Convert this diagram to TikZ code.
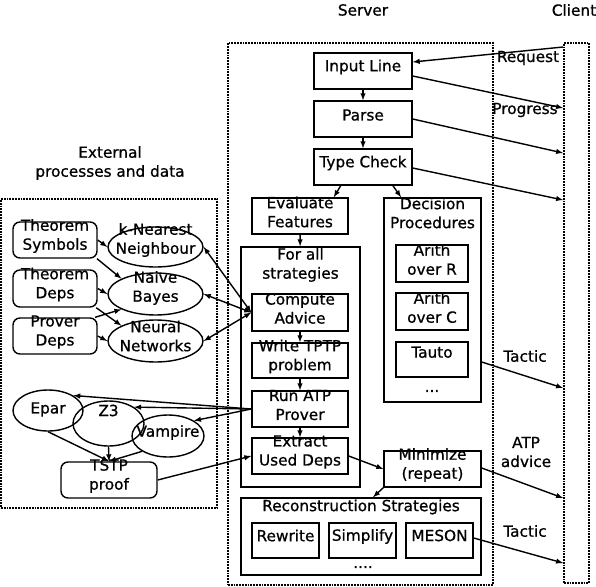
\documentclass[tikz,border=0pt]{standalone}
\usepackage{fontspec}
\setmainfont[FakeBold=0.8]{DejaVu Sans}
\usetikzlibrary{shapes.geometric}
\tikzset{
  box/.style 2 args={draw, rectangle, line width=1.4pt, inner sep=0pt, minimum width=#1, minimum height=#2},
  rbox/.style 2 args={box={#1}{#2}, rounded corners=7pt},
  ell/.style 2 args={draw, ellipse, line width=1.4pt, inner sep=0pt, minimum width=#1, minimum height=#2},
  dotbox/.style 2 args={draw, rectangle, densely dotted, line width=1.8pt, inner sep=0pt, minimum width=#1, minimum height=#2},
  tx/.style={label={[align=center, inner sep=0pt, yshift=4pt]center:{#1}}},
  ty/.style 2 args={label={[align=center, inner sep=0pt, yshift=#1]center:{#2}}},
  toplbl/.style 2 args={label={[align=center, inner sep=#1, below]north:{#2}}},
  arr/.style={-latex, line width=1.4pt},
}
\begin{document}
\begin{tikzpicture}[x=1pt, y=-1pt, font=\fontsize{15.3}{19}\selectfont]
		\useasboundingbox (0,0) rectangle (596,586);
		% group boxes
		\node[dotbox={216}{309}] (xbox) at (109,353.5) {};
		\node[dotbox={265}{542}] (srv) at (360.5,314) {};
		\node[dotbox={25}{540}] (cli) at (576.5,313) {};
		\node (srvl) at (363,10) {Server};
		\node (clil) at (574,10) {Client};
		\node[align=center] (xl) at (110,163) {External\\processes and data};
		
		% server
		\node[box={98}{36}, tx=Input Line] (inp) at (363,71) {};
		\node[box={98}{36}, tx=Parse] (par) at (363,119) {};
		\node[box={98}{36}, tx=Type Check] (typ) at (363,167) {};
		\node[box={96}{36}, tx={Evaluate\\Features}] (eva) at (300,216) {};
		\node[box={97}{204}, toplbl={0pt}{Decision\\Procedures}] (dec) at (432.5,300) {};
		\node[box={119}{240}, toplbl={1.5pt}{For all\\strategies}] (fas) at (300.5,367) {};
		\node[box={96}{37}, tx={Compute\\Advice}] (ca) at (300,312.5) {};
		\node[box={96}{35}, tx={Write TPTP\\problem}] (wtp) at (300,360.5) {};
		\node[box={96}{36}, tx={Run ATP\\Prover}] (rap) at (300,409) {};
		\node[box={96}{36}, tx={Extract\\Used Deps}] (used) at (300,456) {};
		\node[box={72}{37}, tx={Arith\\over R}] (arr) at (432,263.5) {};
		\node[box={72}{37}, tx={Arith\\over C}] (arc) at (432,311.5) {};
		\node[box={72}{35}, toplbl={5pt}{Tauto}] (tau) at (432,359.5) {};
		\node (decd) at (432,391) {...};
		\node[box={97}{36}, tx={Minimize\\(repeat)}] (min) at (432.5,469) {};
		\node[box={240}{77}, toplbl={2pt}{Reconstruction Strategies}] (rec) at (361,536.5) {};
		\node[box={67}{35}, ty={5pt}{Rewrite}] (rew) at (285.5,540.5) {};
		\node[box={67}{35}, tx=Simplify] (sim) at (362.5,540.5) {};
		\node[box={67}{35}, ty={5pt}{MESON}] (mes) at (439.5,540.5) {};
		\node (recd) at (363,567) {....};
		
		% external
		\node[rbox={84}{36}, tx={Theorem\\Symbols}] (ts) at (55,240) {};
		\node[rbox={84}{37}, tx={Theorem\\Deps}] (td) at (55,288.5) {};
		\node[rbox={84}{36}, tx={Prover\\Deps}] (pd) at (55,336) {};
		\node[ell={95}{40}, ty={7pt}{k-Nearest\\Neighbour}] (knn) at (155.5,247) {};
		\node[ell={95}{42}, ty={6pt}{Naive\\Bayes}] (nb) at (155.5,294) {};
		\node[ell={95}{42}, ty={5pt}{Neural\\Networks}] (nn) at (155.5,341) {};
		\node[ell={70}{41}, ty={1pt}{Epar}] (epar) at (48,410.5) {};
		\node[ell={71}{45}, ty={13pt}{Z3}] (z3) at (108.5,423.5) {};
		\node[ell={72}{42}, ty={3.5pt}{Vampire}] (vamp) at (168,436) {};
		\node[rbox={96}{36}, tx={TSTP\\proof}] (tstp) at (109,480) {};
		
		% server flow
		\draw[arr] (inp) -- (par);
		\draw[arr] (par) -- (typ);
		\draw[arr] (typ.220) -- (eva.29);
		\draw[arr] (typ.-32) -- (dec.107);
		\draw[arr] (eva) -- (fas);
		\foreach \a/\b in {ca/wtp, wtp/rap, rap/used}{
			\draw[arr] (\a) -- (\b);
		}
		\draw[arr] (used.east) -- (min.west);
		\draw[arr] (min.south west) -- (rec.73);
		
		% external flow
		\draw[arr] (ts.east) -- (knn.west);
		\draw[arr] (ts.-24) -- (nb.north west);
		\draw[arr] (td.east) -- (nb.west);
		\draw[arr] (td.-25) -- (nn.north west);
		\draw[arr] (pd.25) -- (nb.south west);
		\draw[arr] (pd.east) -- (nn.west);
		\foreach \n in {knn, nb, nn}{
			\draw[latex-latex, line width=1.4pt] (\n.east) -- (ca.west);
		}
		\foreach \n in {epar, z3, vamp}{
			\draw[arr] (rap.west) -- (\n.north east);
		}
		\draw[arr] (epar.south) -- (tstp.north);
		\draw[arr] (z3.south) -- (tstp.north);
		\draw[arr] (vamp.south west) -- (tstp.north);
		\draw[arr] (tstp.east) -- (used.west);
		
		% client
		\draw[arr] (cli.west |- 0,47) -- (inp.east |- 0,62);
		\foreach \a/\s/\e in {inp/76/108, par/119/153, typ/168/200, dec/362/388, min/468/498, mes/538/563}{
			\draw[arr] (\a.east |- 0,\s) -- (cli.west |- 0,\e);
		}
		\node (req) at (528,58) {Request};
		\node (prog) at (525,110) {Progress};
		\node (tac) at (525,356) {Tactic};
		\node[align=center] (atp) at (526,452) {ATP\\advice};
		\node (tacb) at (525,531) {Tactic};
		\end{tikzpicture}
\end{document}
